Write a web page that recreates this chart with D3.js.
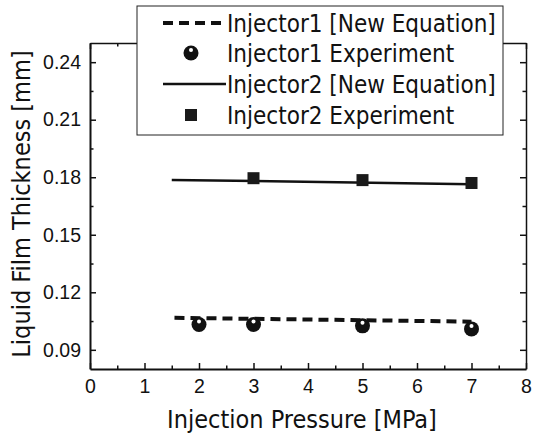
<!DOCTYPE html>
<html lang="en">
<head>
    <meta charset="UTF-8">
    <title>Liquid Film Thickness vs Injection Pressure</title>
    <script src="https://d3js.org/d3.v7.min.js"></script>
    <style>
        body {
            margin: 0;
            background: #fff;
        }
        svg {
            display: block;
            font-family: "DejaVu Sans Condensed", "DejaVu Sans", sans-serif;
        }
        .tick text {
            font-size: 19.5px;
            fill: #111;
        }
        .axis path,
        .axis line {
            stroke: #111;
        }
        .axis-title {
            font-size: 25px;
            fill: #111;
        }
        .legend text {
            font-size: 24px;
            fill: #111;
        }
    </style>
</head>
<body>
    <svg id="chart" width="535" height="438"></svg>

    <script>
        // Values
        const inj1EqX = [1.55, 7];
        const inj1EqY = [0.1067, 0.1047];
        const inj1ExpX = [2, 3, 5, 7];
        const inj1ExpY = [0.1032, 0.1032, 0.1025, 0.1009];
        const inj2EqX = [1.5, 7];
        const inj2EqY = [0.1786, 0.1764];
        const inj2ExpX = [3, 5, 7];
        const inj2ExpY = [0.1795, 0.1785, 0.1770];

        const xTicks = [0, 1, 2, 3, 4, 5, 6, 7, 8];
        const yTicks = [0.09, 0.12, 0.15, 0.18, 0.21, 0.24];
        const legendLabels = [
            "Injector1 [New Equation]",
            "Injector1 Experiment",
            "Injector2 [New Equation]",
            "Injector2 Experiment"
        ];

        const svg = d3.select("#chart");
        const margin = { top: 43, right: 9, bottom: 69, left: 90 };
        const width = +svg.attr("width") - margin.left - margin.right;
        const height = +svg.attr("height") - margin.top - margin.bottom;

        const x = d3.scaleLinear().domain([0, 8]).range([0, width]);
        const y = d3.scaleLinear().domain([0.08, 0.25]).range([height, 0]);

        const g = svg.append("g")
            .attr("transform", `translate(${margin.left},${margin.top})`);

        const xMinor = d3.range(0.5, 8, 1);
        const yMinor = d3.range(0.105, 0.25, 0.03);

        // minor ticks (no labels)
        g.append("g").attr("class", "axis")
            .attr("transform", `translate(0,${height})`)
            .call(d3.axisBottom(x).tickValues(xMinor).tickSize(-3.5).tickFormat(""))
            .select(".domain").remove();
        g.append("g").attr("class", "axis")
            .call(d3.axisTop(x).tickValues(xMinor).tickSize(-3.5).tickFormat(""))
            .select(".domain").remove();
        g.append("g").attr("class", "axis")
            .call(d3.axisLeft(y).tickValues(yMinor).tickSize(-3.5).tickFormat(""))
            .select(".domain").remove();
        g.append("g").attr("class", "axis")
            .attr("transform", `translate(${width},0)`)
            .call(d3.axisRight(y).tickValues(yMinor).tickSize(-3.5).tickFormat(""))
            .select(".domain").remove();

        // major axes, ticks pointing inward
        g.append("g").attr("class", "axis")
            .attr("transform", `translate(0,${height})`)
            .call(d3.axisBottom(x).tickValues(xTicks).tickSize(-6).tickSizeOuter(0).tickPadding(10).tickFormat(d3.format("d")))
            .call(a => a.select(".domain").attr("stroke-width", 2));
        g.append("g").attr("class", "axis")
            .call(d3.axisTop(x).tickValues(xTicks).tickSize(-6).tickSizeOuter(0).tickFormat(""))
            .call(a => a.select(".domain").attr("stroke-width", 1.5));
        g.append("g").attr("class", "axis")
            .call(d3.axisLeft(y).tickValues(yTicks).tickSize(-6).tickSizeOuter(0).tickPadding(9).tickFormat(d3.format(".2f")))
            .call(a => a.select(".domain").attr("stroke-width", 2));
        g.append("g").attr("class", "axis")
            .attr("transform", `translate(${width},0)`)
            .call(d3.axisRight(y).tickValues(yTicks).tickSize(-6).tickSizeOuter(0).tickFormat(""))
            .call(a => a.select(".domain").attr("stroke-width", 1.5));

        g.selectAll(".tick line").attr("stroke-width", 1.5);

        // axis titles
        g.append("text")
            .attr("class", "axis-title")
            .attr("x", width / 2 - 6)
            .attr("y", height + 59)
            .attr("text-anchor", "middle")
            .text("Injection Pressure [MPa]");
        g.append("text")
            .attr("class", "axis-title")
            .attr("transform", "rotate(-90)")
            .attr("x", -height / 2 + 2)
            .attr("y", -60)
            .attr("text-anchor", "middle")
            .text("Liquid Film Thickness [mm]");

        const line = d3.line().x(d => x(d[0])).y(d => y(d[1]));
        const inj1Eq = d3.zip(inj1EqX, inj1EqY);
        const inj2Eq = d3.zip(inj2EqX, inj2EqY);
        const inj1Exp = d3.zip(inj1ExpX, inj1ExpY);
        const inj2Exp = d3.zip(inj2ExpX, inj2ExpY);

        g.append("path")
            .datum(inj2Eq)
            .attr("d", line)
            .attr("fill", "none")
            .attr("stroke", "#111")
            .attr("stroke-width", 2.5);

        g.append("path")
            .datum(inj1Eq)
            .attr("d", line)
            .attr("fill", "none")
            .attr("stroke", "#111")
            .attr("stroke-width", 4)
            .attr("stroke-dasharray", "10,6");

        // sphere-like circle marker
        function circleMark(sel) {
            sel.append("circle").attr("r", 7.5).attr("fill", "#111");
            sel.append("circle").attr("cx", 0).attr("cy", -3).attr("r", 2).attr("fill", "#fff");
        }
        function squareMark(sel) {
            sel.append("rect")
                .attr("x", -6).attr("y", -6)
                .attr("width", 12).attr("height", 12)
                .attr("fill", "#1a1a1a");
        }

        g.selectAll(".c1")
            .data(inj1Exp)
            .enter().append("g")
            .attr("class", "c1")
            .attr("transform", d => `translate(${x(d[0])},${y(d[1])})`)
            .call(circleMark);

        g.selectAll(".s2")
            .data(inj2Exp)
            .enter().append("g")
            .attr("class", "s2")
            .attr("transform", d => `translate(${x(d[0])},${y(d[1])})`)
            .call(squareMark);

        // Legend
        const legend = svg.append("g")
            .attr("class", "legend")
            .attr("transform", "translate(137,6)");

        legend.append("rect")
            .attr("width", 366)
            .attr("height", 129)
            .attr("fill", "#fff")
            .attr("stroke", "#222")
            .attr("stroke-width", 1);

        const rowY = [17, 47, 78, 109];
        legendLabels.forEach((label, i) => {
            const row = legend.append("g").attr("transform", `translate(0,${rowY[i]})`);
            if (i === 0) {
                row.append("line").attr("x1", 26).attr("x2", 89)
                    .attr("stroke", "#111").attr("stroke-width", 4).attr("stroke-dasharray", "10,6");
            } else if (i === 2) {
                row.append("line").attr("x1", 26).attr("x2", 89)
                    .attr("stroke", "#111").attr("stroke-width", 2.5);
            } else if (i === 1) {
                row.append("g").attr("transform", "translate(54,0)").call(circleMark);
            } else {
                row.append("g").attr("transform", "translate(54,0)").call(squareMark);
            }
            row.append("text")
                .attr("x", 90)
                .attr("y", 9)
                .text(label);
        });
    </script>
</body>
</html>
